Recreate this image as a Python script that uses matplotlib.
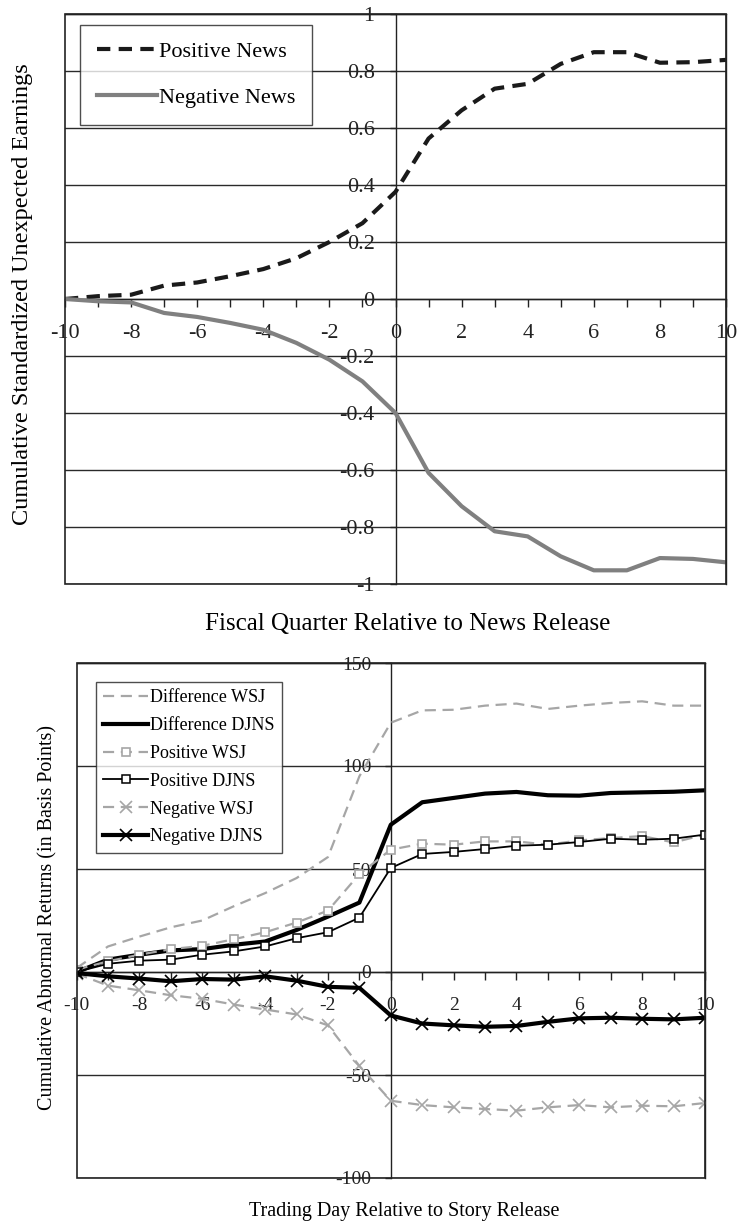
import matplotlib
matplotlib.use("Agg")
import matplotlib.pyplot as plt
from matplotlib.ticker import MultipleLocator, FuncFormatter
from matplotlib.patches import Rectangle

plt.rcParams['font.family'] = ['Liberation Serif', 'DejaVu Serif']
plt.rcParams['axes.unicode_minus'] = False

# ---------------- data: panel 1 ----------------
quarters = list(range(-10, 11))
positive_news = [0.0, 0.01, 0.015, 0.047, 0.058, 0.08, 0.105, 0.143, 0.2, 0.266, 0.376,
                 0.563, 0.662, 0.738, 0.755, 0.825, 0.866, 0.866, 0.829, 0.831, 0.839]
negative_news = [0.0, -0.008, -0.012, -0.049, -0.063, -0.084, -0.108, -0.154, -0.213, -0.289, -0.4,
                 -0.61, -0.727, -0.815, -0.833, -0.903, -0.952, -0.952, -0.909, -0.912, -0.924]

# ---------------- data: panel 2 ----------------
days = list(range(-10, 11))
diff_wsj = [1.9, 12.4, 17.2, 21.7, 25.0, 31.9, 38.3, 45.6, 55.8, 95.0, 121.0,
            127.0, 127.3, 129.3, 130.3, 127.7, 129.3, 130.6, 131.4, 129.3, 129.3]
diff_djns = [0.0, 6.0, 8.4, 10.5, 11.1, 13.2, 14.8, 20.4, 26.9, 33.7, 71.5,
             82.4, 84.5, 86.6, 87.4, 85.8, 85.6, 86.9, 87.2, 87.5, 88.2]
pos_wsj = [1.1, 5.2, 8.4, 11.1, 12.7, 15.9, 19.3, 24.0, 29.8, 47.5, 59.4,
           62.3, 61.8, 63.4, 63.4, 61.8, 63.9, 65.0, 66.0, 62.9, 66.7]
pos_djns = [0.0, 4.0, 5.5, 6.0, 8.4, 10.0, 12.4, 16.4, 19.3, 26.4, 50.5,
            57.3, 58.3, 59.7, 61.3, 61.8, 63.1, 64.7, 64.2, 64.7, 66.7]
neg_wsj = [-0.8, -6.6, -8.9, -11.3, -13.0, -15.8, -18.2, -20.6, -25.9, -45.6, -62.5,
           -64.6, -65.7, -66.5, -67.3, -65.7, -64.6, -65.7, -64.9, -65.2, -63.6]
neg_djns = [-0.5, -2.1, -3.2, -4.5, -3.4, -3.7, -2.1, -4.2, -7.2, -7.7, -21.1,
            -25.0, -25.9, -26.6, -26.2, -24.2, -22.5, -22.2, -22.7, -23.0, -22.2]

W, H = 737, 1223
fig = plt.figure(figsize=(W / 100, H / 100), dpi=100)


def axes_px(l, t, r, b):
    return fig.add_axes([l / W, 1 - b / H, (r - l) / W, (b - t) / H])


def fmt(v, p):
    v = round(v, 6)
    if v == 0:
        return '0'
    return '%g' % v


def style_axes(ax, tick_fs, xpad, ypad):
    ax.spines['left'].set_position(('data', 0))
    ax.spines['bottom'].set_position(('data', 0))
    for s in ['left', 'bottom', 'top', 'right']:
        ax.spines[s].set_linewidth(1.0)
        ax.spines[s].set_color('#222222')
    ax.add_patch(Rectangle((0, 0), 1, 1, transform=ax.transAxes, fill=False,
                           edgecolor='#222222', linewidth=1.2, zorder=5, clip_on=False))
    ax.xaxis.set_major_locator(MultipleLocator(2))
    ax.xaxis.set_minor_locator(MultipleLocator(1))
    ax.tick_params(axis='x', which='both', direction='out', length=6, width=1,
                   labelsize=tick_fs, pad=xpad, colors='#222222')
    ax.tick_params(axis='y', which='both', direction='out', length=4, width=1,
                   labelsize=tick_fs, pad=ypad, colors='#222222')
    ax.yaxis.grid(True, color='#2a2a2a', linewidth=1.0)
    ax.set_axisbelow(True)
    ax.yaxis.set_major_formatter(FuncFormatter(fmt))
    ax.xaxis.set_major_formatter(FuncFormatter(fmt))


# ---------------- panel 1 ----------------
ax1 = axes_px(65, 14, 726, 584)
ax1.set_xlim(-10, 10)
ax1.set_ylim(-1, 1)
ax1.yaxis.set_major_locator(MultipleLocator(0.2))
style_axes(ax1, 16, 12, 11)
ax1.plot(quarters, positive_news, color='#1a1a1a', linewidth=3.0, linestyle=(0, (3.2, 2.0)),
         label='Positive News', zorder=3)
ax1.plot(quarters, negative_news, color='#808080', linewidth=3.0, label='Negative News', zorder=3)
leg1 = ax1.legend(loc='upper left', bbox_to_anchor=(0.0227, 0.981), borderaxespad=0,
                  fontsize=16, frameon=True, fancybox=False, handlelength=2.7,
                  handletextpad=0.1, labelspacing=1.15, borderpad=0.75)
leg1.get_frame().set_edgecolor('#222222')
leg1.get_frame().set_linewidth(1.0)
ax1.set_ylabel('Cumulative Standardized Unexpected Earnings', fontsize=17.5)
ax1.yaxis.set_label_coords(-0.048, 0.509)
ax1.set_xlabel('Fiscal Quarter Relative to News Release', fontsize=18)
ax1.xaxis.set_label_coords(0.519, -0.051)

# ---------------- panel 2 ----------------
ax2 = axes_px(76.6, 663, 705, 1178)
ax2.set_xlim(-10, 10)
ax2.set_ylim(-100, 150)
ax2.yaxis.set_major_locator(MultipleLocator(50))
style_axes(ax2, 14, 12, 10)
lg = '#a6a6a6'
ax2.plot(days, diff_wsj, color=lg, linewidth=1.6, linestyle=(0, (5, 3)), label='Difference WSJ', zorder=3)
ax2.plot(days, diff_djns, color='black', linewidth=3.0, label='Difference DJNS', zorder=3)
ax2.plot(days, pos_wsj, color=lg, linewidth=1.6, linestyle=(0, (5, 3)), marker='s',
         markersize=6, markerfacecolor='white', markeredgecolor=lg, markeredgewidth=1.2,
         label='Positive WSJ', zorder=3)
ax2.plot(days, pos_djns, color='black', linewidth=1.3, marker='s', markersize=6,
         markerfacecolor='white', markeredgecolor='black', markeredgewidth=1.1,
         label='Positive DJNS', zorder=4)
ax2.plot(days, neg_wsj, color=lg, linewidth=1.6, linestyle=(0, (5, 3)), marker='x',
         markersize=8, markeredgewidth=1.2, label='Negative WSJ', zorder=3)
ax2.plot(days, neg_djns, color='black', linewidth=3.0, marker='x', markersize=8,
         markeredgewidth=1.2, label='Negative DJNS', zorder=4)
leg2 = ax2.legend(loc='upper left', bbox_to_anchor=(0.031, 0.963), borderaxespad=0,
                  fontsize=13, frameon=True, fancybox=False, handlelength=2.5,
                  handletextpad=0.1, labelspacing=0.6, borderpad=0.4)
leg2.get_frame().set_edgecolor('#222222')
leg2.get_frame().set_linewidth(1.0)
ax2.set_ylabel('Cumulative Abnormal Returns (in Basis Points)', fontsize=14.5)
ax2.yaxis.set_label_coords(-0.031, 0.505)
ax2.set_xlabel('Trading Day Relative to Story Release', fontsize=14.5)
ax2.xaxis.set_label_coords(0.521, -0.047)

fig.savefig('out.png', dpi=100)
